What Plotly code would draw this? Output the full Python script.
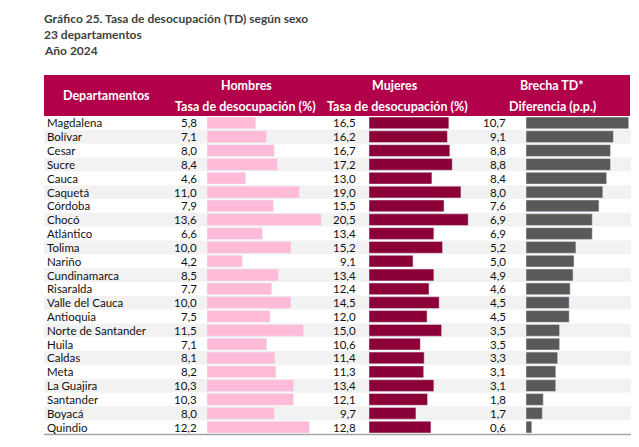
import plotly.graph_objects as go

departamentos = ["Magdalena", "Bolívar", "Cesar", "Sucre", "Cauca", "Caquetá", "Córdoba",
                 "Chocó", "Atlántico", "Tolima", "Nariño", "Cundinamarca", "Risaralda",
                 "Valle del Cauca", "Antioquia", "Norte de Santander", "Huila", "Caldas",
                 "Meta", "La Guajira", "Santander", "Boyacá", "Quindio"]
hombres = [5.8, 7.1, 8.0, 8.4, 4.6, 11.0, 7.9, 13.6, 6.6, 10.0, 4.2, 8.5, 7.7,
           10.0, 7.5, 11.5, 7.1, 8.1, 8.2, 10.3, 10.3, 8.0, 12.2]
mujeres = [16.5, 16.2, 16.7, 17.2, 13.0, 19.0, 15.5, 20.5, 13.4, 15.2, 9.1, 13.4, 12.4,
           14.5, 12.0, 15.0, 10.6, 11.4, 11.3, 13.4, 12.1, 9.7, 12.8]
brecha = [10.7, 9.1, 8.8, 8.8, 8.4, 8.0, 7.6, 6.9, 6.9, 5.2, 5.0, 4.9, 4.6,
          4.5, 4.5, 3.5, 3.5, 3.3, 3.1, 3.1, 1.8, 1.7, 0.6]

W, H = 639, 447
FONT = "Lato"
def px(x):
    return x / W
def py(y):
    return 1 - y / H

def fmt(v):
    return f"{v:.1f}".replace(".", ",")

fig = go.Figure()
fig.add_trace(go.Bar(y=departamentos, x=hombres, orientation="h", marker_color="#FFBBD7",
                     xaxis="x", yaxis="y", hoverinfo="skip"))
fig.add_trace(go.Bar(y=departamentos, x=mujeres, orientation="h", marker_color="#8A0037",
                     xaxis="x2", yaxis="y", hoverinfo="skip"))
fig.add_trace(go.Bar(y=departamentos, x=brecha, orientation="h", marker_color="#595959",
                     xaxis="x3", yaxis="y", hoverinfo="skip"))

shapes = []
# header band
shapes.append(dict(type="rect", xref="paper", yref="paper", x0=px(44), x1=px(630),
                   y0=py(116), y1=py(75), fillcolor="#B3004B", line_width=0, layer="below"))
# alternating rows
for i in range(len(departamentos)):
    if i % 2 == 1:
        shapes.append(dict(type="rect", xref="paper", yref="y", x0=px(44), x1=px(631),
                           y0=i - 0.5, y1=i + 0.5, fillcolor="#F2F2F2", line_width=0,
                           layer="below"))
# bottom line
shapes.append(dict(type="line", xref="paper", yref="paper", x0=px(44), x1=px(631),
                   y0=py(434.5), y1=py(434.5), line=dict(color="#A6A6A6", width=1.5)))

ann = []
titles = ["Gráfico 25. Tasa de desocupación (TD) según sexo", "23 departamentos", "Año 2024"]
for t, yy in zip(titles, [19, 35, 51]):
    ann.append(dict(text=f"<b>{t}</b>", xref="paper", yref="paper", x=px(43), y=py(yy),
                    xanchor="left", yanchor="middle", showarrow=False, borderpad=0,
                    font=dict(family=FONT, size=12, color="#404040")))
hdr = [("Departamentos", 106, 95), ("Hombres", 246, 85), ("Tasa de desocupación (%)", 245, 106),
       ("Mujeres", 395, 85), ("Tasa de desocupación (%)", 397, 106),
       ("Brecha TD*", 552, 85), ("Diferencia (p.p.)", 552, 106)]
for t, xx, yy in hdr:
    ann.append(dict(text=f"<b>{t}</b>", xref="paper", yref="paper", x=px(xx), y=py(yy),
                    xanchor="center", yanchor="middle", showarrow=False, borderpad=0,
                    font=dict(family=FONT, size=12.5, color="white")))
for d, h, m, b in zip(departamentos, hombres, mujeres, brecha):
    ann.append(dict(text=d, xref="paper", yref="y", x=px(46), y=d, xanchor="left",
                    yanchor="middle", showarrow=False, borderpad=0,
                    font=dict(family=FONT, size=11.5, color="#111111")))
    for v, xx in [(h, 198), (m, 357), (b, 507)]:
        ann.append(dict(text=fmt(v), xref="paper", yref="y", x=px(xx), y=d, xanchor="right",
                        yanchor="middle", showarrow=False, borderpad=0,
                        font=dict(family=FONT, size=11.5, color="#111111")))

hidden = dict(showgrid=False, zeroline=False, showticklabels=False, showline=False, ticks="")
fig.update_layout(
    width=W, height=H, margin=dict(l=0, r=0, t=0, b=0),
    paper_bgcolor="white", plot_bgcolor="rgba(0,0,0,0)",
    showlegend=False, bargap=0.15,
    xaxis=dict(domain=[px(207), px(330)], range=[0, 123 / 8.4], anchor="y", **hidden),
    xaxis2=dict(domain=[px(369), px(490)], range=[0, 121 / 4.84], anchor="y", **hidden),
    xaxis3=dict(domain=[px(526), px(630)], range=[0, 104 / 9.6], anchor="y", **hidden),
    yaxis=dict(domain=[py(434), py(116)], range=[len(departamentos) - 0.5, -0.5],
               type="category", **hidden),
    shapes=shapes, annotations=ann,
)
fig.write_html("out.html", config={"displayModeBar": False},
               post_script="document.body.style.margin='0';document.body.style.overflow='hidden';")
